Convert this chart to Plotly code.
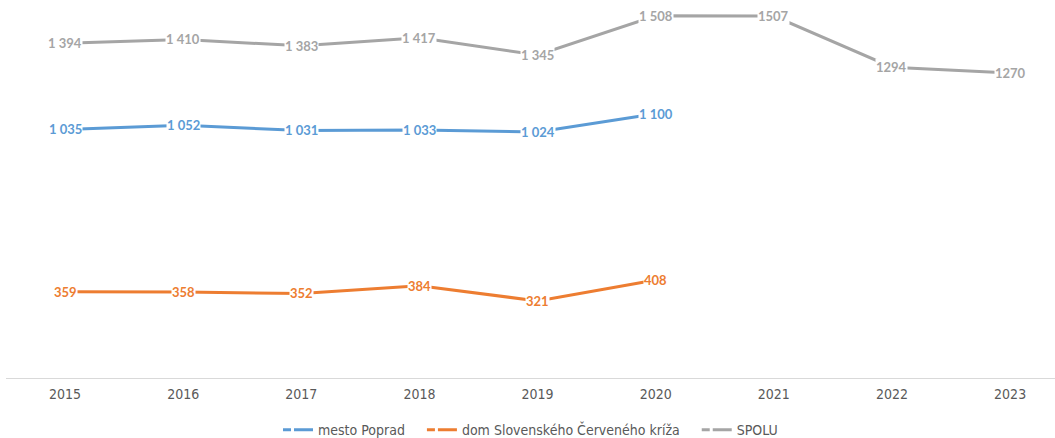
import plotly.graph_objects as go

years = ["2015", "2016", "2017", "2018", "2019", "2020", "2021", "2022", "2023"]
mesto_poprad = [1035, 1052, 1031, 1033, 1024, 1100]
dom_src = [359, 358, 352, 384, 321, 408]
spolu = [1394, 1410, 1383, 1417, 1345, 1508, 1507, 1294, 1270]
# years whose labels use a thousands separator
sep_until = 2020

series = [
    ("mesto Poprad", mesto_poprad, "#5B9BD5"),
    ("dom Slovenského Červeného kríža", dom_src, "#ED7D31"),
    ("SPOLU", spolu, "#A5A5A5"),
]

LABEL_FONT = "Lato, 'Open Sans', sans-serif"
AXIS_FONT = "'Liberation Sans Narrow', 'DejaVu Sans Condensed', sans-serif"
LEGEND_PAD = "\u00a0" * 3


def fmt(value, year):
    if int(year) <= sep_until and value >= 1000:
        return f"{value:,}".replace(",", " ")
    return str(value)


fig = go.Figure()
annotations = []
for k, (name, values, color) in enumerate(series):
    xs = list(range(len(values)))
    fig.add_trace(go.Scatter(
        x=xs, y=values, mode="lines", name=name, showlegend=False,
        line=dict(color=color, width=3), hoverinfo="skip",
    ))
    # legend sample drawn as a short dash followed by a longer one
    label = name + (LEGEND_PAD if k < len(series) - 1 else "")
    fig.add_trace(go.Scatter(
        x=[None], y=[None], mode="lines", name=label,
        line=dict(color=color, width=3, dash="8px,3px,19px,100px"),
    ))
    for i, v in enumerate(values):
        annotations.append(dict(
            x=i, y=v, xref="x", yref="y", text=fmt(v, years[i]),
            showarrow=False, bgcolor="white", borderpad=0,
            font=dict(family=LABEL_FONT, size=13, color=color, weight="bold"),
        ))

fig.update_layout(
    width=1055, height=438,
    margin=dict(l=6, r=0, t=0, b=60, autoexpand=False),
    paper_bgcolor="white", plot_bgcolor="white",
    annotations=annotations,
    showlegend=True,
    legend=dict(
        orientation="h", x=0.5, xanchor="center", y=-0.138, yanchor="middle",
        font=dict(family=AXIS_FONT, size=14, color="#595959"),
        itemwidth=30, traceorder="normal",
    ),
    xaxis=dict(
        range=[-0.5, 8.38], tickmode="array",
        tickvals=list(range(len(years))), ticktext=years,
        showgrid=False, zeroline=False, showline=True,
        linecolor="#D9D9D9", linewidth=1, ticks="", ticklabelstandoff=3,
        tickfont=dict(family=AXIS_FONT, size=14, color="#595959"),
        fixedrange=True,
    ),
    yaxis=dict(
        range=[0, 1574], visible=False, showgrid=False, zeroline=False,
        fixedrange=True,
    ),
)

fig.write_html("out.html")
